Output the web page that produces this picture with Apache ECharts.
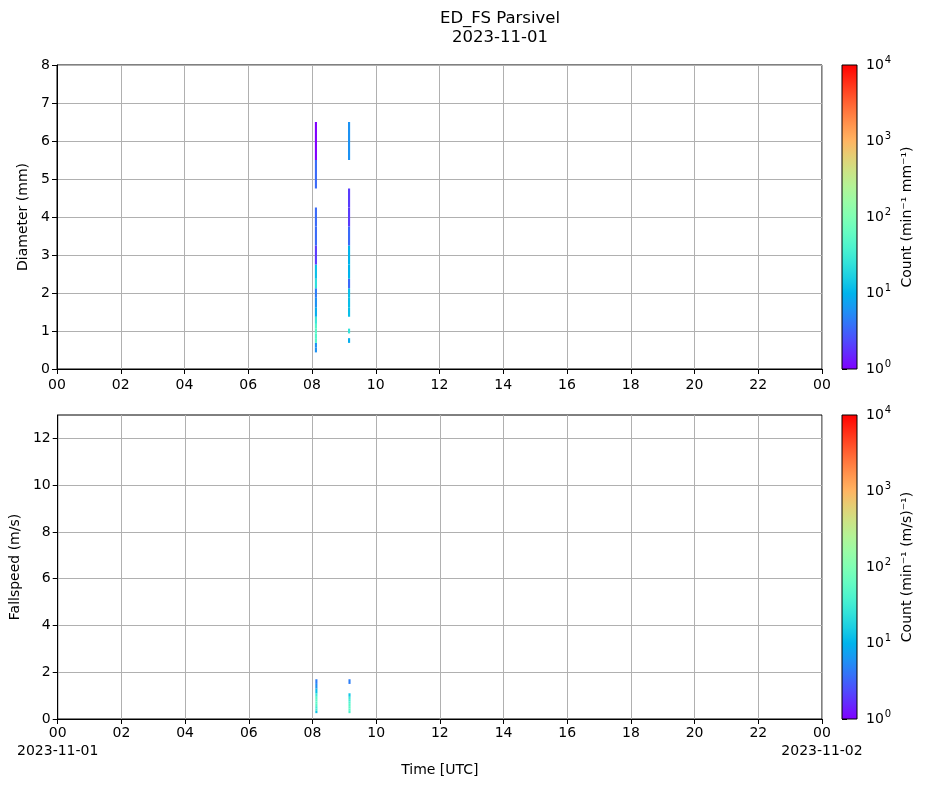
<!DOCTYPE html>
<html>
<head>
<meta charset="utf-8">
<script src="https://cdn.jsdelivr.net/npm/echarts@6/dist/echarts.min.js"></script>
<style>
html,body{margin:0;padding:0;background:#fff;}
#chart{width:926px;height:788px;}
</style>
</head>
<body>
<div id="chart"></div>
<script>
// ---- data ----
const titleText = 'ED_FS Parsivel';
const dateText = '2023-11-01';
const nextDateText = '2023-11-02';
// start hour of each measured column (hours UTC) and column duration (hours)
const columnStartHours = [8.09, 9.13];
const columnDurationHours = 0.066;
// diameter cell edges (mm)
const diameterEdges = [0.437, 0.562, 0.687, 0.812, 0.937, 1.062, 1.187, 1.375, 1.625, 1.875, 2.125, 2.375, 2.75, 3.25, 3.75, 4.25, 4.75, 5.5, 6.5];
// counts per diameter cell (min^-1 mm^-1), 0 = no data
const diameterCountsCol1 = [6, 6, 45, 45, 50, 45, 28, 9, 6, 4.5, 22, 12, 2, 3.5, 3.5, 0, 3.5, 1];
const diameterCountsCol2 = [0, 0, 9, 0, 25, 0, 0, 12, 12, 12, 3.5, 10, 10, 3.5, 2, 2, 0, 6];
// fallspeed cell edges (m/s)
const speedEdges = [0.25, 0.35, 0.45, 0.55, 0.65, 0.75, 0.85, 0.95, 1.1, 1.3, 1.5, 1.7];
const speedCountsCol1 = [13, 32, 32, 50, 50, 50, 50, 30, 12, 6, 4.5];
const speedCountsCol2 = [40, 50, 50, 50, 40, 32, 30, 14, 0, 0, 4.5];
const xTicks = ['00','02','04','06','08','10','12','14','16','18','20','22','00'];
const speedTicks = [0, 2, 4, 6, 8, 10, 12];
const colorbarExponents = ['0','1','2','3','4'];

// ---- helpers ----
function rainbow(x){
  x = Math.max(0, Math.min(1, x));
  const c = v => Math.round(255*Math.max(0, Math.min(1, v)));
  const r = Math.abs(2*x - 0.5), g = Math.sin(Math.PI*x), b = Math.cos(Math.PI*x/2);
  return 'rgb(' + c(r) + ',' + c(g) + ',' + c(b) + ')';
}
function cells(edges, cols){
  const out = [];
  cols.forEach((counts, ci) => {
    const t0 = columnStartHours[ci], t1 = t0 + columnDurationHours;
    counts.forEach((v, i) => {
      if (v > 0) out.push([t0, t1, edges[i], edges[i+1], v]);
    });
  });
  return out;
}
const gradStops = [];
for (let i = 0; i <= 20; i++) gradStops.push({offset: i/20, color: rainbow(1 - i/20)});

const font = 'DejaVu Sans';
const fs = 14;
const gridLine = {show: true, lineStyle: {color: '#b0b0b0', width: 1}};
const tickStyle = {show: true, length: 5, lineStyle: {color: '#000', width: 1}};

function xAxisDef(gi, bottom){
  return {
    type: 'value', gridIndex: gi, min: 0, max: 24, interval: 2,
    axisLine: {show: true, onZero: false, lineStyle: {color: '#000', width: 1}},
    axisTick: tickStyle,
    splitLine: gridLine,
    axisLabel: {
      color: '#000', fontFamily: font, fontSize: fs, margin: bottom ? 5 : 6, lineHeight: bottom ? 18 : 20,
      formatter: function(v){
        const idx = Math.round(v/2);
        let s = xTicks[idx];
        if (bottom && v === 0) s += '\n' + dateText;
        if (bottom && v === 24) s += '\n' + nextDateText;
        return s;
      }
    },
    name: bottom ? 'Time [UTC]' : '', nameLocation: 'middle', nameGap: 44,
    nameTextStyle: {color: '#000', fontFamily: font, fontSize: fs}
  };
}
function yAxisDef(gi, max, interval, name, gap, custom){
  const ax = {
    type: 'value', gridIndex: gi, min: 0, max: max, interval: interval,
    axisLine: {show: true, onZero: false, lineStyle: {color: '#000', width: 1}},
    axisTick: Object.assign({}, tickStyle), splitLine: gridLine,
    axisLabel: {color: '#000', fontFamily: font, fontSize: fs, margin: 7},
    name: name, nameLocation: 'middle', nameGap: gap, nameRotate: 90,
    nameTextStyle: {color: '#000', fontFamily: font, fontSize: fs}
  };
  if (custom) {
    ax.axisTick.customValues = custom;
    ax.axisLabel.customValues = custom;
  }
  return ax;
}
function cbY(gi, name){
  return {
    type: 'value', gridIndex: gi, min: 0, max: 4, interval: 1, position: 'right',
    axisLine: {show: false}, axisTick: tickStyle, splitLine: {show: false},
    axisLabel: {color: '#000', fontFamily: font, fontSize: fs, margin: 9,
      formatter: v => '{b|10}{s|' + colorbarExponents[Math.round(v)] + '}',
      rich: {
        b: {fontFamily: font, fontSize: 14, color: '#000'},
        s: {fontFamily: font, fontSize: 10, color: '#000', padding: [0, 0, 9, 1]}
      }},
    name: name, nameLocation: 'middle', nameGap: 43, nameRotate: 90,
    nameTextStyle: {color: '#000', fontFamily: font, fontSize: fs}
  };
}
function cbX(gi){
  return {type: 'value', gridIndex: gi, min: 0, max: 1, show: false};
}
function cellRender(params, api){
  const p0 = api.coord([api.value(0), api.value(3)]);
  const p1 = api.coord([api.value(1), api.value(2)]);
  const v = api.value(4);
  return {
    type: 'rect',
    shape: {x: p0[0], y: p0[1], width: Math.max(1, p1[0]-p0[0]), height: p1[1]-p0[1]},
    style: {fill: rainbow(Math.log10(v)/4)}
  };
}
function barRender(params, api){
  const p0 = api.coord([0, 4]);
  const p1 = api.coord([1, 0]);
  return {
    type: 'rect',
    shape: {x: p0[0], y: p0[1], width: p1[0]-p0[0], height: p1[1]-p0[1]},
    style: {fill: new echarts.graphic.LinearGradient(0, 0, 0, 1, gradStops), stroke: '#000', lineWidth: 1}
  };
}

const chart = echarts.init(document.getElementById('chart'), null, {renderer: 'canvas'});
chart.setOption({
  backgroundColor: '#fff',
  animation: false,
  title: {
    text: titleText + '\n' + dateText,
    left: 495, top: 4, textAlign: 'center',
    textStyle: {fontFamily: font, fontSize: 16.5, fontWeight: 'normal', color: '#000', lineHeight: 19}
  },
  grid: [
    {left: 57, top: 65, width: 765, height: 304, show: true, borderColor: '#000', borderWidth: 1, backgroundColor: 'transparent'},
    {left: 57, top: 415, width: 765, height: 304, show: true, borderColor: '#000', borderWidth: 1, backgroundColor: 'transparent'},
    {left: 842, top: 65, width: 15, height: 304},
    {left: 842, top: 415, width: 15, height: 304}
  ],
  xAxis: [xAxisDef(0, false), xAxisDef(1, true), cbX(2), cbX(3)],
  yAxis: [
    yAxisDef(0, 8, 1, 'Diameter (mm)', 21, null),
    yAxisDef(1, 13, 2, 'Fallspeed (m/s)', 32, speedTicks),
    cbY(2, 'Count (min⁻¹ mm⁻¹)'),
    cbY(3, 'Count (min⁻¹ (m/s)⁻¹)')
  ],
  series: [
    {type: 'custom', xAxisIndex: 0, yAxisIndex: 0, renderItem: cellRender, clip: true,
     data: cells(diameterEdges, [diameterCountsCol1, diameterCountsCol2])},
    {type: 'custom', xAxisIndex: 1, yAxisIndex: 1, renderItem: cellRender, clip: true,
     data: cells(speedEdges, [speedCountsCol1, speedCountsCol2])},
    {type: 'custom', xAxisIndex: 2, yAxisIndex: 2, renderItem: barRender, data: [[0, 0]]},
    {type: 'custom', xAxisIndex: 3, yAxisIndex: 3, renderItem: barRender, data: [[0, 0]]}
  ]
});
</script>
</body>
</html>
